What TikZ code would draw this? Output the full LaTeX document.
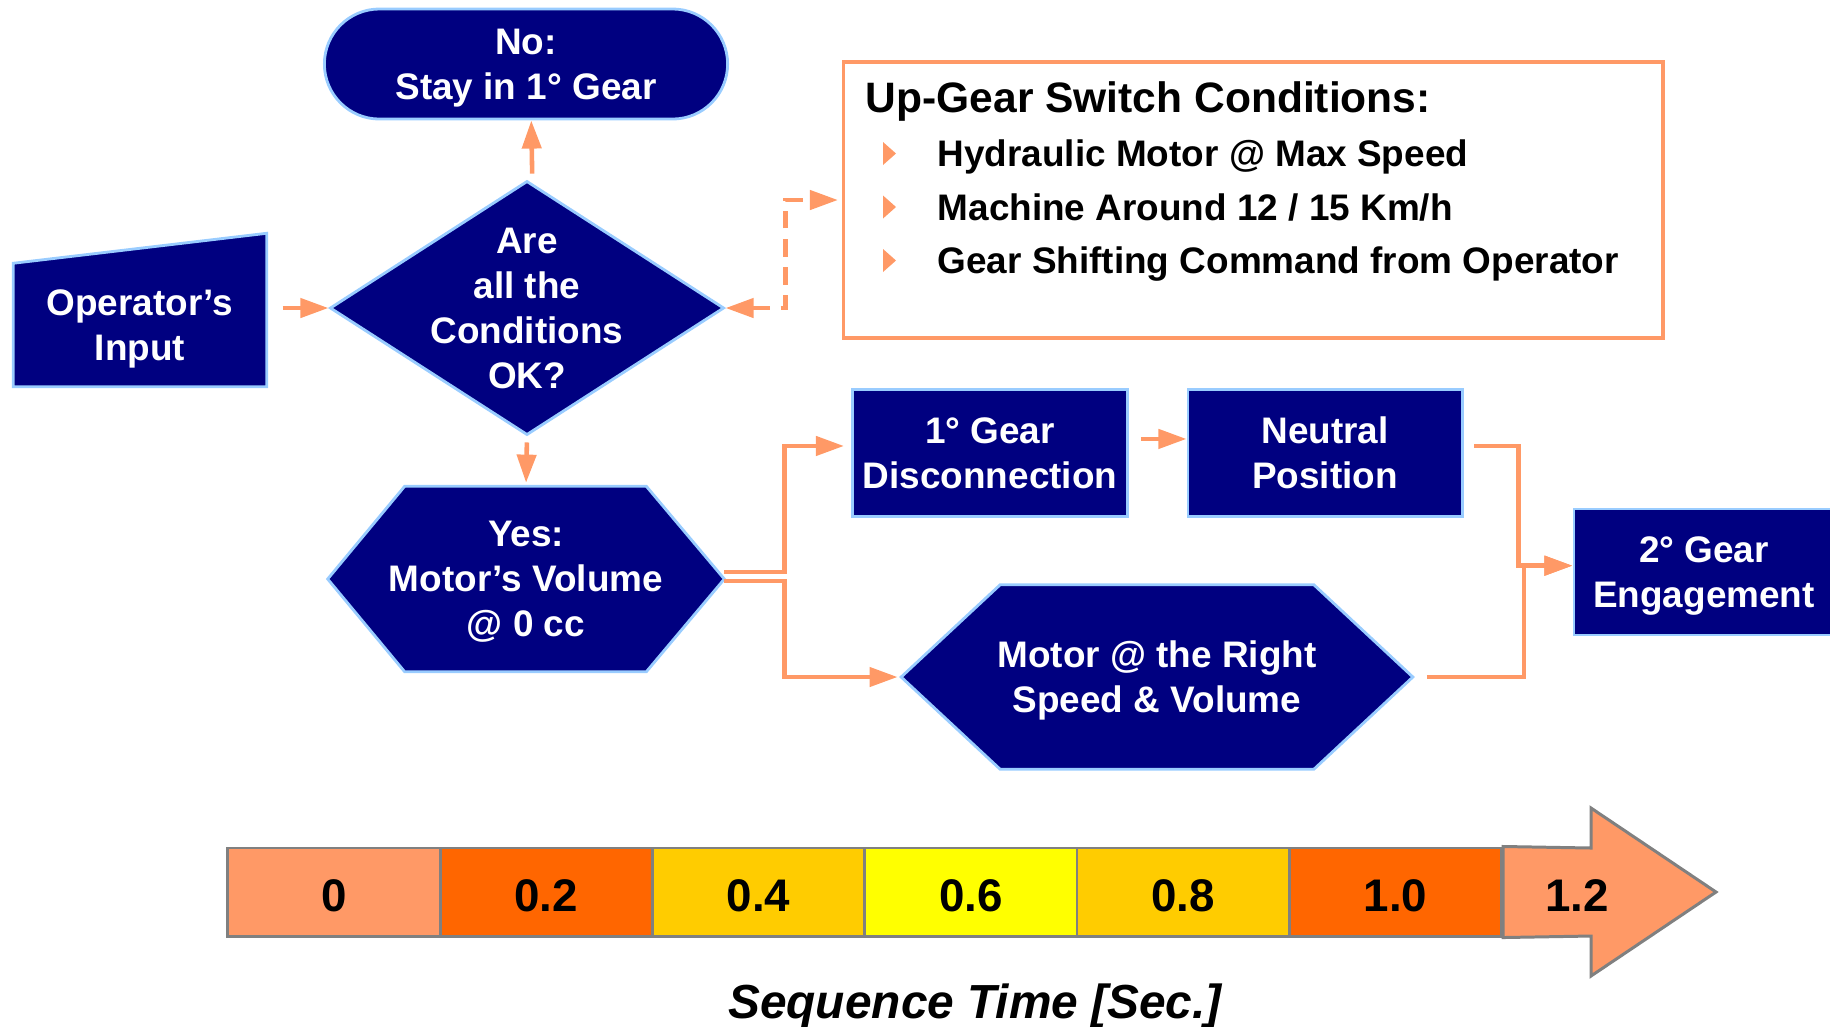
\documentclass[tikz,border=0pt]{standalone}
\usepackage{fontspec}
\setmainfont{Liberation Sans}
\usetikzlibrary{shapes.geometric,shapes.misc,arrows.meta,calc,backgrounds}

\definecolor{stepnavy}{HTML}{000080}
\definecolor{stepedge}{HTML}{99CCFF}
\definecolor{flowline}{HTML}{FF9966}
\definecolor{tlsalmon}{HTML}{FF9966}
\definecolor{tlorange}{HTML}{FF6600}
\definecolor{tlgold}{HTML}{FFCC00}
\definecolor{tlyellow}{HTML}{FFFF00}
\definecolor{tlgrey}{HTML}{808080}

\begin{document}
\begin{tikzpicture}[x=0.01cm, y=-0.01cm,
	boxtext/.style={text=white, font=\fontsize{10.5}{12.8}\selectfont\bfseries, align=center, inner sep=0pt, text depth=0pt},
	block/.style={boxtext, draw=stepedge, line width=0.8pt, fill=stepnavy},
	outline/.style={draw=stepedge, line width=0.8pt, fill=stepnavy},
	condtext/.style={anchor=base west, inner sep=0pt, font=\fontsize{10.5}{12.8}\selectfont\bfseries},
	flow/.style={draw=flowline, line width=1.3pt, -{Triangle[length=8pt,width=5.4pt]}},
	celltext/.style={inner sep=0pt, text height=11.3pt, text depth=0pt, font=\fontsize{13}{15}\selectfont\bfseries},
	cell/.style={celltext, draw=tlgrey, line width=0.85pt, minimum width=2.123cm, minimum height=0.88cm}]
	\useasboundingbox (0,0) rectangle (1830,1026);

	\node[block, rounded rectangle, minimum width=4.03cm, minimum height=1.10cm] (nogear) at (526,64) {No:\\Stay in 1° Gear};
	\node[block, diamond, minimum width=3.94cm, minimum height=2.54cm,
		label={[boxtext]center:{Are\\all the\\Conditions\\OK?}}] (check) at (527,308) {};
	\node[boxtext, minimum width=2.52cm, minimum height=1.22cm] (opin) at (140,325) {Operator’s\\Input};
	\node[boxtext, minimum width=3.95cm, minimum height=1.84cm] (yes) at (526,579) {Yes:\\Motor’s Volume\\@ 0 cc};
	\node[block, minimum width=2.75cm, minimum height=1.27cm] (disc) at (990,453) {1° Gear\\Disconnection};
	\node[block, minimum width=2.74cm, minimum height=1.27cm] (neut) at (1325,453) {Neutral\\Position};
	\node[block, minimum width=2.60cm, minimum height=1.26cm] (eng) at (1704,572) {2° Gear\\Engagement};
	\node[boxtext, minimum width=5.10cm, minimum height=1.83cm] (motor) at (1157,677) {Motor @ the Right\\Speed \& Volume};
	\begin{scope}[on background layer]
		\filldraw[outline] (opin.south west) -- (opin.south east)
			-- ($(opin.north east)+(0,-30)$) -- (opin.north west) -- cycle;
		\filldraw[outline] (yes.west) -- ($(yes.north west)+(77,0)$) -- ($(yes.north east)+(-78,0)$) -- (yes.east)
			-- ($(yes.south east)+(-78,0)$) -- ($(yes.south west)+(77,0)$) -- cycle;
		\filldraw[outline] (motor.west) -- ($(motor.north west)+(99,0)$) -- ($(motor.north east)+(-99,0)$) -- (motor.east)
			-- ($(motor.south east)+(-99,0)$) -- ($(motor.south west)+(99,0)$) -- cycle;
	\end{scope}

	\node[draw=flowline, line width=1pt, minimum width=8.19cm, minimum height=2.76cm] (cond) at (1253,200) {};
	\node[condtext, font=\fontsize{12.1}{14}\selectfont\bfseries] (condtitle) at (865,112) {Up-Gear Switch Conditions:};
	\foreach \txt [count=\i] in {Hydraulic Motor @ Max Speed, Machine Around 12 / 15 Km/h, Gear Shifting Command from Operator}{
		\fill[flowline] (883,{100+53.5*\i-11.5}) -- (896,{100+53.5*\i}) -- (883,{100+53.5*\i+11.5}) -- cycle;
		\node[condtext] (cond\i) at (937,{113+53.5*\i}) {\txt};
	}

	\draw[flow, shorten <=4.5pt] (opin.east |- check.west) -- (check.west);
	\draw[flow, shorten <=1.7pt] ([xshift=1.5pt]check.north) -- ([xshift=1.5pt]nogear.south);
	\draw[flow, shorten <=1.7pt, shorten >=1pt] (check.south) -- (yes.north);
	\draw[flow, dash pattern=on 5pt off 3pt, {Triangle[length=8pt,width=5.4pt]}-{Triangle[length=8pt,width=5.4pt]}, shorten >=1pt]
		(check.east) -- ++(60,0) |- (cond.west);
	\draw[flow, shorten >=2pt] ([yshift=2pt]yes.east) -- ++(60,0) |- ([yshift=2pt]disc.west);
	\draw[flow, shorten >=1pt] ([yshift=-0.6pt]yes.east) -- ++(60,0) |- (motor.west);
	\draw[flow, shorten <=3.4pt] ([yshift=4pt]disc.east) -- ([yshift=4pt]neut.west);
	\draw[flow, shorten <=3pt] ([yshift=2pt]neut.east) -- ++(55,0) |- ([yshift=1.8pt]eng.west);
	\draw[flow, shorten <=4pt] (motor.east) -- ++(111,0) |- ([yshift=1.8pt]eng.west);

	\foreach \val/\col [count=\i from 0] in {0/tlsalmon,0.2/tlorange,0.4/tlgold,0.6/tlyellow,0.8/tlgold,1.0/tlorange}
		\node[cell, fill=\col] (tl\i) at ({334+212.3*\i},892) {\val};
	\filldraw[draw=tlgrey, line width=0.85pt, fill=tlsalmon] (tl5.north east) -- (1591,848) -- (1591,808)
		-- (1716,892) -- (1591,976) -- (1591,936) -- (tl5.south east) -- cycle;
	\node[celltext] (tl6) at (1577,892) {1.2};
	\node[text depth=0pt, font=\fontsize{13.6}{16}\selectfont\bfseries\itshape] (seqtime) at (975,1001) {Sequence Time [Sec.]};
\end{tikzpicture}
\end{document}
